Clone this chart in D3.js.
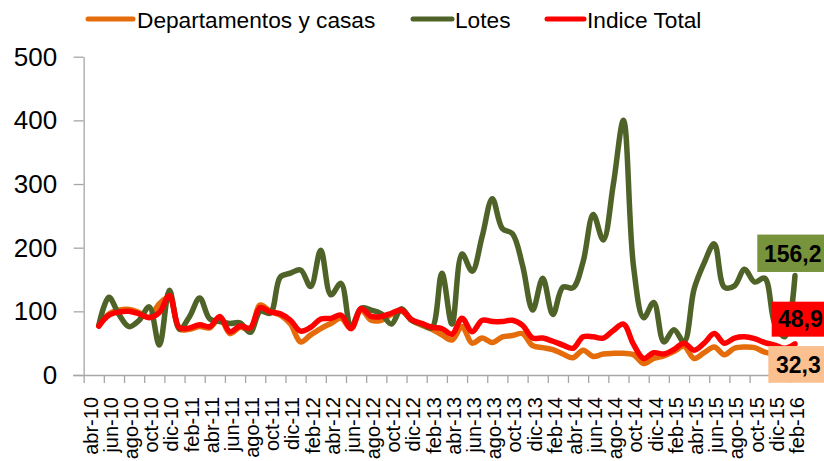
<!DOCTYPE html>
<html><head><meta charset="utf-8">
<script src="https://cdn.jsdelivr.net/npm/d3@7"></script>
<style>
html,body{margin:0;padding:0;background:#fff;}
svg{display:block;font-family:"Liberation Sans",Arial,sans-serif;}
</style></head>
<body><svg id="chart" width="824" height="461"></svg>
<script>
// Category labels (monthly, abr-10 .. feb-16)
const months = ["abr-10","may-10","jun-10","jul-10","ago-10","sep-10","oct-10","nov-10","dic-10",
"ene-11","feb-11","mar-11","abr-11","may-11","jun-11","jul-11","ago-11","sep-11","oct-11","nov-11","dic-11",
"ene-12","feb-12","mar-12","abr-12","may-12","jun-12","jul-12","ago-12","sep-12","oct-12","nov-12","dic-12",
"ene-13","feb-13","mar-13","abr-13","may-13","jun-13","jul-13","ago-13","sep-13","oct-13","nov-13","dic-13",
"ene-14","feb-14","mar-14","abr-14","may-14","jun-14","jul-14","ago-14","sep-14","oct-14","nov-14","dic-14",
"ene-15","feb-15","mar-15","abr-15","may-15","jun-15","jul-15","ago-15","sep-15","oct-15","nov-15","dic-15",
"ene-16","feb-16"];

const seriesNames = ["Departamentos y casas","Lotes","Indice Total"];

const deptos = [null,77,96,102,103,98,91,112,122,72,72,76,74,90,65,75,72,110,100,94,80,
52,63,73,81,89,73,102,86,86,95,100,86,78,72,63,55,76,50,58,51,60,62,65,46,43,40,33,27,39,29,
33,34,34,32,18,26,30,37,45,26,35,44,32,42,44,43,36,33,32,32.3];

const lotes = [null,78,122,95,76,86,107,47,133,72,92,121,88,84,81,82,67,100,97,154,160,
165,139,196,126,144,74,105,102,96,80,104,86,80,74,160,80,190,163,218,277,230,222,172,102,152,95,
138,137,178,252,212,300,400,170,90,114,52,71,52,135,176,206,138,140,166,146,152,80,60,156.2];

const indice = [null,77,94,99,100,96,90,98,125,74,74,79,76,92,68,77,74,106,99,96,86,
69,75,88,89,94,73,104,92,92,97,102,87,81,75,73,64,89,68,86,84,84,86,78,58,58,53,47,42,60,60,
58,70,80,48,26,35,33,40,50,39,50,65,50,58,60,57,51,47,42,48.9];

const yTicks = [0,100,200,300,400,500];

const colors = ["#E46C0A","#4F6228","#FF0000"];
const boxColors = ["#FAC090","#77933C","#FF0000"];

const svg = d3.select("#chart");
const n = months.length;
const x = d3.scaleLinear().domain([0, n-1]).range([88.7, 795]);
const y = d3.scaleLinear().domain([0, 500]).range([375, 56.7]);
const axisColor = "#A6A6A6";

// Y axis
const yAxis = svg.append("g").attr("transform", `translate(${x(-0.5)},0)`)
  .call(d3.axisLeft(y).tickValues(yTicks).tickSize(10).tickSizeOuter(0).tickPadding(16.5));
yAxis.select(".domain").attr("stroke", axisColor).attr("stroke-width",1.3);
yAxis.selectAll(".tick line").attr("stroke", axisColor).attr("stroke-width",1.3);
yAxis.selectAll(".tick text").attr("font-size", 26).attr("fill","#000")
  .attr("font-family","'Liberation Sans',Arial,sans-serif");

// X axis: tick marks at every second category boundary
const tickIdx = d3.range(-0.5, n-1, 2);
const xAxis = svg.append("g").attr("transform", `translate(0,${y(0)})`)
  .call(d3.axisBottom(x).tickValues(tickIdx).tickSize(8).tickSizeOuter(0).tickFormat(""));
xAxis.select(".domain").attr("d", `M${x(-0.5)-10.5},0.5H${x(n-0.5)}`)
  .attr("stroke", axisColor).attr("stroke-width",1.3);
xAxis.selectAll(".tick line").attr("stroke", axisColor).attr("stroke-width",1.3);

// X labels on every second category
const labelIdx = d3.range(0, n, 2);
const xLab = svg.append("g").attr("transform", `translate(0,${y(0)})`)
  .call(d3.axisBottom(x).tickValues(labelIdx).tickSize(0).tickFormat(i => months[i]));
xLab.select(".domain").remove();
xLab.selectAll(".tick text")
  .attr("font-size", 20).attr("fill","#000")
  .attr("font-family","'Liberation Sans',Arial,sans-serif")
  .attr("text-anchor","end")
  .attr("transform","translate(0,22) rotate(-90)")
  .attr("x",0).attr("y",0).attr("dy","0.42em");

// Lines
const line = d3.line()
  .defined(d => d != null)
  .x((d,i) => x(i)).y(d => y(d))
  .curve(d3.curveCatmullRom.alpha(0.5));
const data = [deptos, lotes, indice];
data.forEach((s, k) => {
  svg.append("path").datum(s)
    .attr("d", line)
    .attr("fill","none")
    .attr("stroke", colors[k])
    .attr("stroke-width", 5.5)
    .attr("stroke-linejoin","round")
    .attr("stroke-linecap","round");
});

// End-value labels
const fmt = v => d3.format(".1f")(v).replace(".", ",");
const last = n - 1;
const boxes = [
  {k:1, x0:757.3, top: y(lotes[last]) - 41, h:37.4, tx:764},
  {k:2, x0:771.7, top: y(indice[last]) - 42.2, h:35, tx:778},
  {k:0, x0:768.3, top: y(deptos[last]) - 8.4, h:36.7, tx:776}
];
boxes.forEach(b => {
  const v = data[b.k][last];
  svg.append("rect").attr("x", b.x0).attr("y", b.top).attr("width", 830 - b.x0).attr("height", b.h)
    .attr("fill", boxColors[b.k]);
  svg.append("text").attr("x", b.tx).attr("y", b.top + b.h/2 + 8.3)
    .attr("font-size", 23).attr("font-weight","bold").attr("fill","#000")
    .text(fmt(v));
});

// Legend
const legend = [
  {k:0, x1:88, x2:133, tx:137},
  {k:1, x1:413, x2:452, tx:455},
  {k:2, x1:547, x2:584, tx:587}
];
legend.forEach(l => {
  svg.append("line").attr("x1", l.x1).attr("x2", l.x2).attr("y1", 19).attr("y2", 19)
    .attr("stroke", colors[l.k]).attr("stroke-width", 5).attr("stroke-linecap","round");
  svg.append("text").attr("x", l.tx).attr("y", 27.5)
    .attr("font-size", 22.7).attr("fill","#000").text(seriesNames[l.k]);
});
</script></body></html>
